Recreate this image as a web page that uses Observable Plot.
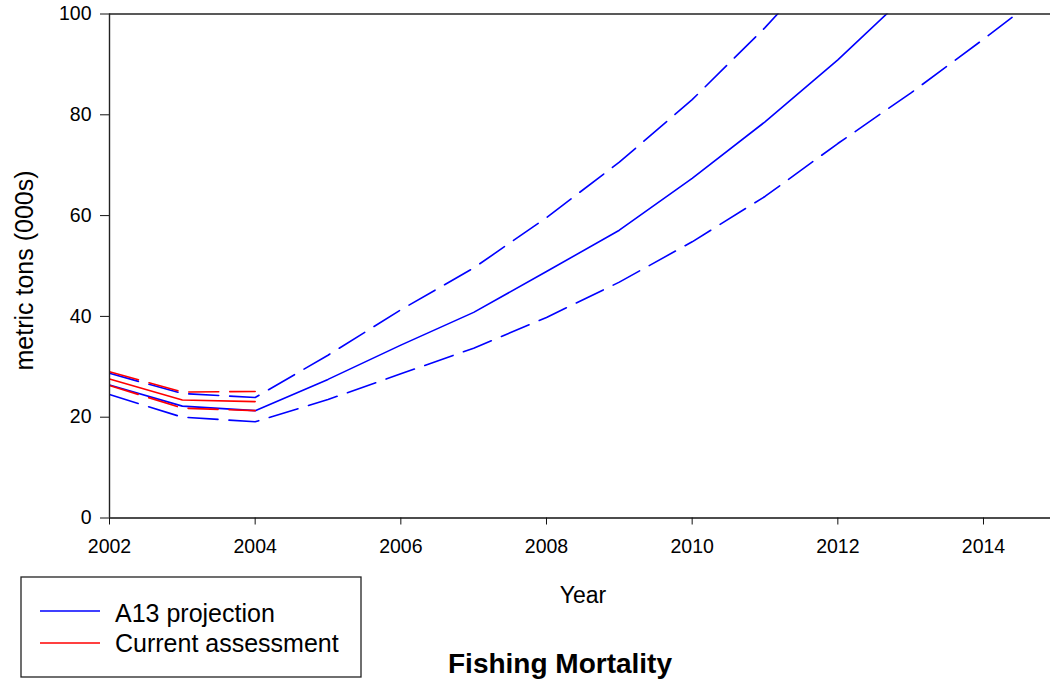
<!DOCTYPE html>
<html>
<head>
<meta charset="utf-8">
<script src="https://cdn.jsdelivr.net/npm/d3@7"></script>
<script src="https://cdn.jsdelivr.net/npm/@observablehq/plot@0.6"></script>
<style>
  html, body { margin: 0; padding: 0; background: white; }
  #wrap { position: relative; width: 1050px; height: 679px; overflow: hidden; font-family: "Liberation Sans", Arial, sans-serif; }
  #foot { position: absolute; left: 0; top: 560px; }
</style>
</head>
<body>
<div id="wrap">
  <div id="chart"></div>
  <svg id="foot" width="1050" height="119" xmlns="http://www.w3.org/2000/svg"></svg>
</div>
<script>
// ---- data ----
const years = [2002, 2003, 2004, 2005, 2006, 2007, 2008, 2009, 2010, 2011, 2012, 2013, 2014, 2015];
const a13Central = [26.4, 22.2, 21.3, 27.5, 34.3, 40.8, 48.9, 57.1, 67.4, 78.6, 90.9, 104.5];
const a13Upper   = [28.7, 24.7, 23.9, 32.3, 41.3, 49.6, 59.6, 70.6, 83.0, 97.3, 113.0];
const a13Lower   = [24.5, 20.0, 19.1, 23.5, 28.6, 33.7, 39.8, 46.8, 54.8, 63.8, 74.3, 84.3, 95.0, 106.0];
const curCentral = [27.6, 23.4, 23.1];
const curUpper   = [29.0, 25.0, 25.1];
const curLower   = [26.3, 21.8, 21.3];
const xTicks = [2002, 2004, 2006, 2008, 2010, 2012, 2014];
const yTicks = [0, 20, 40, 60, 80, 100];
const seriesNames = ["A13 projection", "Current assessment"];
const yLabel = "metric tons (000s)";
const xLabel = "Year";
const title = "Fishing Mortality";

const toRows = (vals) => vals.map((v, i) => ({year: years[i], value: v}));

const BLUE = "#0000ff", RED = "#ff0000";
const font = "Liberation Sans, Arial, sans-serif";
const lineOpts = (stroke, dashed) => ({
  x: "year", y: "value", stroke, strokeWidth: 1.6, clip: true,
  strokeDasharray: dashed ? "30,11" : null
});

const chart = Plot.plot({
  width: 1050,
  height: 560,
  marginLeft: 109,
  marginRight: 0,
  marginTop: 13.5,
  marginBottom: 42.5,
  style: {fontFamily: font, fontSize: "19.5px", color: "black", background: "white"},
  x: {domain: [2002, 2014.92]},
  y: {domain: [0, 100]},
  marks: [
    Plot.axisX({ticks: xTicks, tickFormat: "d", tickSize: 7, tickPadding: 14.5, label: null, fontSize: 19.5, stroke: "#111"}),
    Plot.axisY({ticks: yTicks, tickSize: 9, tickPadding: 9, label: null, fontSize: 19.5, stroke: "#111"}),
    Plot.line(toRows(a13Upper), lineOpts(BLUE, true)),
    Plot.line(toRows(a13Lower), lineOpts(BLUE, true)),
    Plot.line(toRows(a13Central), lineOpts(BLUE, false)),
    Plot.line(toRows(curUpper), lineOpts(RED, true)),
    Plot.line(toRows(curLower), lineOpts(RED, true)),
    Plot.line(toRows(curCentral), lineOpts(RED, false)),
    Plot.ruleY([0], {stroke: "#111", strokeWidth: 1.4}),
    Plot.ruleY([100], {stroke: "#222", strokeWidth: 1.4}),
    Plot.ruleX([2002], {stroke: "#222", strokeWidth: 1.4}),
    Plot.text([yLabel], {frameAnchor: "left", text: d => d, rotate: -90, dx: -85, dy: 4.5,
      fontSize: 25, textAnchor: "middle", lineAnchor: "middle", fill: "black"})
  ]
});
document.getElementById("chart").appendChild(chart);

// ---- footer: axis title, legend, chart title ----
const foot = d3.select("#foot").style("font-family", font);
foot.append("text").attr("x", 583).attr("y", 43).attr("text-anchor", "middle")
  .attr("font-size", 23).attr("fill", "black").text(xLabel);
foot.append("text").attr("x", 560).attr("y", 113).attr("text-anchor", "middle")
  .attr("font-size", 28).attr("font-weight", "bold").attr("fill", "black").text(title);
foot.append("rect").attr("x", 21).attr("y", 17).attr("width", 340).attr("height", 100)
  .attr("fill", "white").attr("stroke", "#222").attr("stroke-width", 1.3);
const legendColors = [BLUE, RED];
const legendLineY = [51, 83];
const legendTextY = [62, 92];
seriesNames.forEach((name, i) => {
  foot.append("line").attr("x1", 40).attr("x2", 100).attr("y1", legendLineY[i]).attr("y2", legendLineY[i])
    .attr("stroke", legendColors[i]).attr("stroke-width", 1.6);
  foot.append("text").attr("x", 115).attr("y", legendTextY[i]).attr("font-size", 25)
    .attr("fill", "black").text(name);
});
</script>
</body>
</html>
